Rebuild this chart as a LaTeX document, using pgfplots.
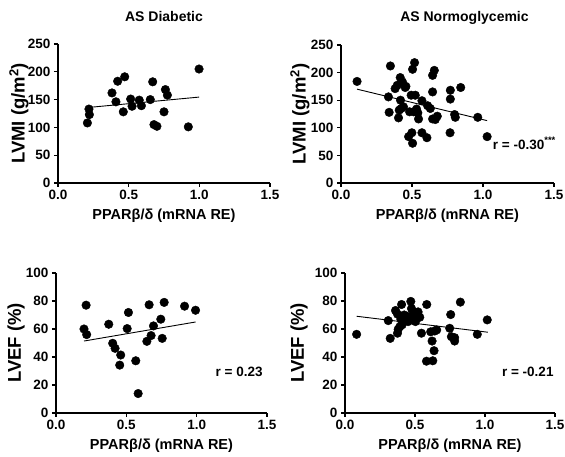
\documentclass[border=0pt]{standalone}
\usepackage{pgfplots}
\pgfplotsset{compat=1.18}
\usepackage{fontspec}
\setmainfont{Liberation Sans}

\tikzset{rlabel/.style={anchor=west, font=\fontsize{13.5}{13.5}\selectfont\bfseries}}
\pgfplotsset{
  panel/.style={
    scale only axis,
    anchor=south west,
    axis x line*=bottom,
    axis y line*=left,
    axis line style={line width=1.3pt},
    every tick/.style={line width=1.1pt, black},
    tick align=outside,
    major tick length=4pt,
    xmin=0, xmax=1.5,
    xtick={0,0.5,1,1.5},
    xticklabel style={/pgf/number format/.cd, fixed, fixed zerofill, precision=1},
    /pgf/number format/assume math mode=true,
    ticklabel style={font=\fontsize{13.5}{13.5}\selectfont\bfseries},
    xlabel={PPARβ/δ (mRNA RE)},
    xlabel style={font=\fontsize{14.5}{14.5}\selectfont\bfseries,
      at={([yshift=-33pt]axis description cs:0.5,0)}, anchor=center},
    title style={font=\fontsize{14}{14}\selectfont\bfseries,
      at={([yshift=21pt]axis description cs:0.5,1)}, anchor=center},
    clip=false,
  },
  dots/.style={only marks, mark=*, mark size=4.3pt, black, mark options={fill=black}},
  fit/.style={black, line width=0.9pt, no marks},
}

\begin{document}
\begin{tikzpicture}[x=1pt,y=1pt]
\useasboundingbox (0,0) rectangle (565,457);

% top left: LVMI, diabetic
\begin{axis}[panel, at={(58pt,274pt)}, width=212pt, height=139pt,
  ymin=0, ymax=250, ytick={0,50,...,250},
  title={AS Diabetic},
  ylabel={LVMI (g/m\textsuperscript{2})},
  ylabel style={font=\fontsize{18.5}{18.5}\selectfont\bfseries,
    at={([xshift=-39pt]axis description cs:0,0.5)}, anchor=center}]
\addplot[dots] coordinates {
(0.208,108) (0.219,133) (0.222,123) (0.382,162) (0.410,146) (0.422,183)
(0.462,128) (0.472,191) (0.514,151) (0.524,138) (0.575,149) (0.590,139)
(0.653,150) (0.670,182) (0.679,105) (0.700,102) (0.750,128) (0.760,168)
(0.774,158) (0.922,101) (0.998,205)};
\addplot[fit] coordinates {(0.222,136) (0.998,154.5)};
\end{axis}

% top right: LVMI, normoglycemic
\begin{axis}[panel, at={(341pt,274pt)}, width=213pt, height=138pt,
  ymin=0, ymax=250, ytick={0,50,...,250},
  title={AS Normoglycemic}, title style={xshift=17pt},
  ylabel={LVMI (g/m\textsuperscript{2})},
  ylabel style={font=\fontsize{18.5}{18.5}\selectfont\bfseries,
    at={([xshift=-41pt]axis description cs:0,0.5)}, anchor=center}]
\addplot[dots] coordinates {
(0.113,184) (0.334,156) (0.339,128) (0.348,212) (0.381,171) (0.396,177)
(0.405,118) (0.410,132) (0.417,191) (0.419,150) (0.424,135) (0.433,183)
(0.440,138) (0.452,173) (0.457,175) (0.476,84) (0.483,129) (0.494,159)
(0.499,91) (0.504,206) (0.504,72) (0.511,129) (0.518,218) (0.523,159)
(0.532,134) (0.541,127) (0.546,116) (0.570,91) (0.570,149) (0.605,82)
(0.610,140) (0.629,135) (0.645,165) (0.645,116) (0.645,195) (0.657,204)
(0.664,115) (0.678,121) (0.768,91) (0.770,168) (0.770,152) (0.800,124)
(0.805,119) (0.843,173) (0.963,119) (1.029,84)};
\addplot[fit] coordinates {(0.113,170) (1.029,113)};
\node[rlabel] at (axis cs:1.045,72) {r = -0.30\textsuperscript{***}};
\end{axis}

% bottom left: LVEF, diabetic
\begin{axis}[panel, at={(56pt,44pt)}, width=211pt, height=140pt,
  ymin=0, ymax=100, ytick={0,20,...,100},
  ylabel={LVEF (\%)},
  ylabel style={font=\fontsize{18.5}{18.5}\selectfont\bfseries,
    at={([xshift=-40pt]axis description cs:0,0.5)}, anchor=center}]
\addplot[dots] coordinates {
(0.199,60) (0.214,77) (0.218,56) (0.375,63.4) (0.403,49.8) (0.420,46.2)
(0.460,41.4) (0.453,34.2) (0.506,60.3) (0.515,71.8) (0.567,37.3) (0.584,13.9)
(0.646,51.2) (0.662,77.3) (0.676,55.3) (0.693,62.2) (0.745,67) (0.755,53.3)
(0.769,79) (0.914,76.3) (0.992,73.4)};
\addplot[fit] coordinates {(0.199,51.4) (0.992,65)};
\addplot[black, line width=2.4pt, no marks] coordinates {(1.36,0) (1.5,0)};
\node[rlabel] at (axis cs:1.11,29.4) {r = 0.23};
\end{axis}

% bottom right: LVEF, normoglycemic
\begin{axis}[panel, at={(345pt,44pt)}, width=210pt, height=140pt,
  ymin=0, ymax=100, ytick={0,20,...,100},
  ylabel={LVEF (\%)},
  ylabel style={font=\fontsize{18.5}{18.5}\selectfont\bfseries,
    at={([xshift=-46pt]axis description cs:0,0.5)}, anchor=center}]
\addplot[dots] coordinates {
(0.083,56.2) (0.309,66) (0.323,53.3) (0.361,73.2) (0.375,70.6) (0.375,57)
(0.380,59.8) (0.392,61.7) (0.399,67) (0.404,77.5) (0.408,63) (0.423,70)
(0.432,66.5) (0.446,69) (0.451,65.3) (0.463,67.7) (0.470,79.7) (0.475,74.6)
(0.480,67) (0.487,72.5) (0.494,69.4) (0.503,65.3) (0.510,71.3) (0.522,72.2)
(0.534,68.4) (0.546,57) (0.584,77.5) (0.582,37) (0.612,58) (0.622,51.4)
(0.627,37.3) (0.636,44.5) (0.641,58.6) (0.655,59.3) (0.748,60.5) (0.755,70.3)
(0.760,54.5) (0.783,53.8) (0.783,51.4) (0.824,79.2) (0.945,56.2) (1.016,66.5)};
\addplot[fit] coordinates {(0.083,69.1) (1.02,57.7)};
\addplot[black, line width=2.4pt, no marks] coordinates {(1.36,0) (1.5,0)};
\node[rlabel] at (axis cs:1.097,29.4) {r = -0.21};
\end{axis}
\end{tikzpicture}
\end{document}
